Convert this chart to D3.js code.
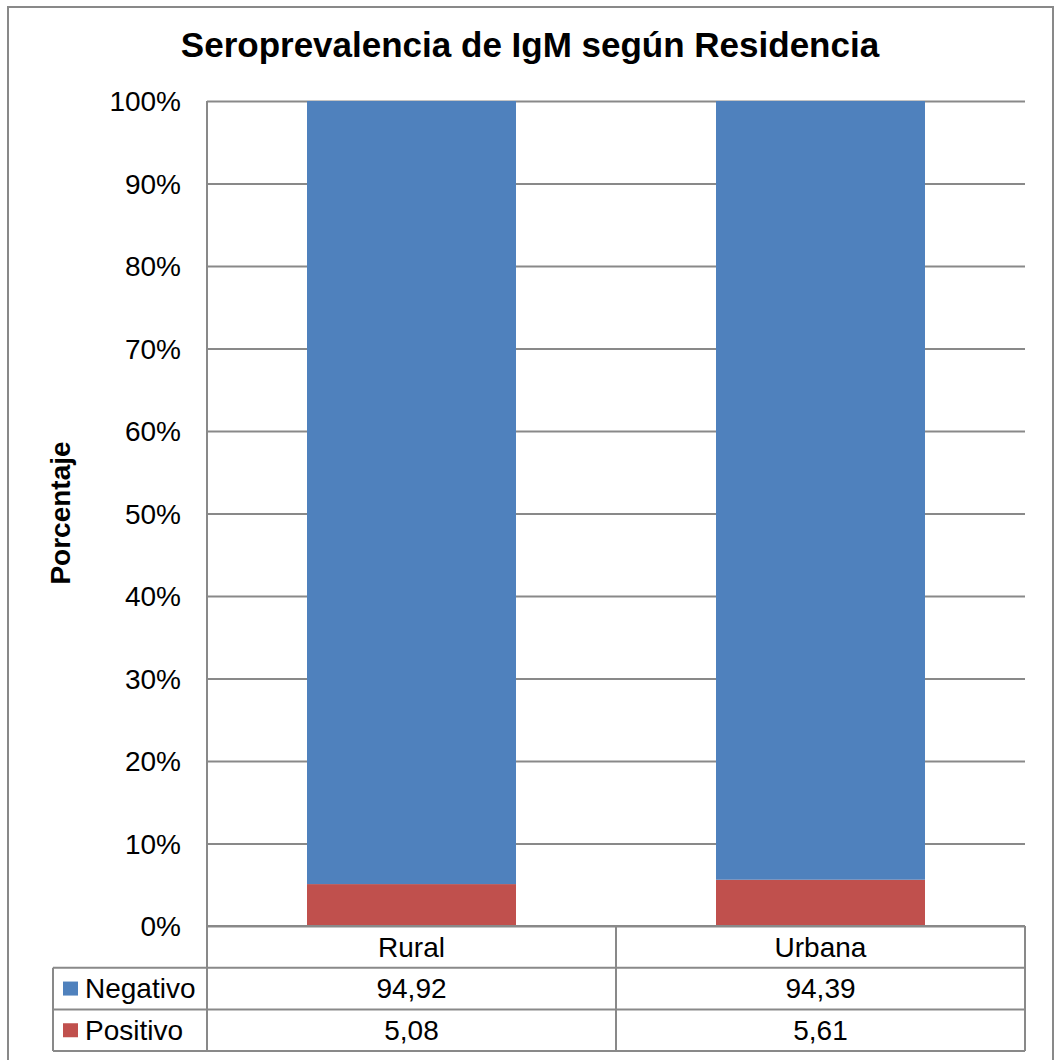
<!DOCTYPE html>
<html>
<head>
<meta charset="utf-8">
<script src="https://cdn.jsdelivr.net/npm/d3@7"></script>
<style>
	body { margin: 0; background: #fff; }
	svg text { font-family: 'Liberation Sans', Arial, sans-serif; fill: #000; }
	.grid line { stroke: #898989; stroke-width: 2px; }
	.table line { stroke: #898989; stroke-width: 2px; }
</style>
</head>
<body>
<div id="graphic"></div>
<script>
// chart values
const categories = ['Rural', 'Urbana'];
const seriesNames = ['Negativo', 'Positivo'];
const negativo = [94.92, 94.39];
const positivo = [5.08, 5.61];
const yTicks = [0, 10, 20, 30, 40, 50, 60, 70, 80, 90, 100];
const colourPalette = ['#4F81BD', '#C0504D'];

const width = 1056;
const height = 1060;
const margin = { top: 101, right: 31, bottom: 134, left: 207 };
const chartWidth = width - margin.left - margin.right;
const chartHeight = height - margin.top - margin.bottom;
const rowHeight = 41.7;

// comma as decimal separator
const locale = d3.formatLocale({ decimal: ',', thousands: '.', grouping: [3], currency: ['', ''] });
const fmt = locale.format('.2f');

// build the table the stack needs
let graphicData = categories.map((c, i) => ({ name: c, Negativo: negativo[i], Positivo: positivo[i] }));
let stacked = d3.stack().keys(['Positivo', 'Negativo'])(graphicData);

let svg = d3.select('#graphic')
	.append('svg')
	.attr('width', width)
	.attr('height', height);

// outer chart border
svg.append('rect')
	.attr('x', 8)
	.attr('y', 7)
	.attr('width', 1045)
	.attr('height', 1080)
	.attr('fill', '#fff')
	.attr('stroke', '#898989')
	.attr('stroke-width', 2);

svg.append('text')
	.attr('x', 530)
	.attr('y', 57)
	.attr('text-anchor', 'middle')
	.attr('font-size', '35px')
	.attr('font-weight', 'bold')
	.text('Seroprevalencia de IgM según Residencia');

let chart = svg.append('g')
	.attr('transform', 'translate(' + margin.left + ',' + margin.top + ')');

//set up scales
const x = d3.scaleBand()
	.domain(categories)
	.range([0, chartWidth])
	.paddingInner(0.489)
	.paddingOuter(0.2445);

const y = d3.scaleLinear()
	.domain([0, 100])
	.range([chartHeight, 0]);

// gridlines
chart.append('g')
	.attr('class', 'grid')
	.call(d3.axisLeft(y).tickValues(yTicks).tickSize(-chartWidth).tickFormat(''))
	.call(g => g.select('.domain').remove());

// y axis labels
chart.append('g')
	.call(d3.axisLeft(y).tickValues(yTicks).tickSize(0).tickPadding(26).tickFormat(d => d + '%'))
	.call(g => g.select('.domain').remove())
	.selectAll('text')
	.attr('font-size', '28px')
	.attr('font-family', null)
	.attr('dy', '0.35em');

// bars
chart.selectAll('g.series')
	.data(stacked)
	.join('g')
	.attr('class', 'series')
	.attr('fill', d => d.key == 'Negativo' ? colourPalette[0] : colourPalette[1])
	.selectAll('rect')
	.data(d => d)
	.join('rect')
	.attr('x', d => x(d.data.name))
	.attr('width', x.bandwidth())
	.attr('y', d => y(d[1]))
	.attr('height', d => y(d[0]) - y(d[1]));

// y axis line
chart.append('line')
	.attr('class', 'axisline')
	.attr('x1', 0).attr('x2', 0)
	.attr('y1', 0).attr('y2', chartHeight + rowHeight * 3)
	.attr('stroke', '#898989')
	.attr('stroke-width', 2);

// data table underneath
let table = chart.append('g')
	.attr('class', 'table')
	.attr('transform', 'translate(0,' + chartHeight + ')');

let colEdges = categories.map(c => x(c) - x.step() * x.paddingInner() / 2).concat([chartWidth]);
let legendLeft = 53 - margin.left;

// horizontal lines
table.append('line').attr('x1', 0).attr('x2', chartWidth).attr('y1', 0).attr('y2', 0);
[1, 2, 3].forEach(function (r) {
	table.append('line')
		.attr('x1', legendLeft).attr('x2', chartWidth)
		.attr('y1', r * rowHeight).attr('y2', r * rowHeight);
});

// vertical lines
colEdges.slice(1).forEach(function (e) {
	table.append('line').attr('x1', e).attr('x2', e).attr('y1', 0).attr('y2', rowHeight * 3);
});
table.append('line')
	.attr('x1', legendLeft).attr('x2', legendLeft)
	.attr('y1', rowHeight).attr('y2', rowHeight * 3);

// category header
table.selectAll('text.cat')
	.data(categories)
	.join('text')
	.attr('class', 'cat')
	.attr('x', d => x(d) + x.bandwidth() / 2)
	.attr('y', rowHeight / 2)
	.attr('dy', '0.35em')
	.attr('text-anchor', 'middle')
	.attr('font-size', '28px')
	.text(d => d);

let rows = [negativo, positivo];

// legend cells and values
seriesNames.forEach(function (s, i) {
	let cy = rowHeight * (i + 1.5);
	table.append('rect')
		.attr('x', 63 - margin.left)
		.attr('y', cy - 7)
		.attr('width', 15)
		.attr('height', 14)
		.attr('fill', colourPalette[i]);
	table.append('text')
		.attr('x', 85 - margin.left)
		.attr('y', cy)
		.attr('dy', '0.35em')
		.attr('font-size', '28px')
		.text(s);
	table.selectAll('text.val' + i)
		.data(rows[i])
		.join('text')
		.attr('class', 'val' + i)
		.attr('x', (d, j) => x(categories[j]) + x.bandwidth() / 2)
		.attr('y', cy)
		.attr('dy', '0.35em')
		.attr('text-anchor', 'middle')
		.attr('font-size', '28px')
		.text(d => fmt(d));
});

// y axis title
svg.append('text')
	.attr('transform', 'translate(70,513) rotate(-90)')
	.attr('text-anchor', 'middle')
	.attr('font-size', '28px')
	.attr('font-weight', 'bold')
	.text('Porcentaje');
</script>
</body>
</html>
